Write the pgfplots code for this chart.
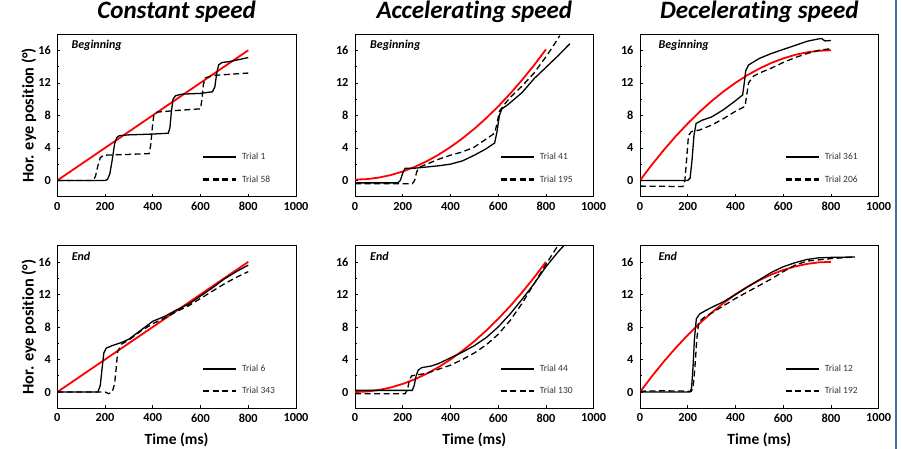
\documentclass[border=0pt]{standalone}
\usepackage{fontspec}
\setmainfont[Ligatures=NoCommon]{Carlito}
\usepackage{pgfplots}
\pgfplotsset{compat=1.18}
\definecolor{legtext}{HTML}{333333}
\definecolor{sideblue}{HTML}{4A6DA7}

\pgfplotsset{
  panel/.style={
    scale only axis, width=238.7pt, height=162.7pt,
    xmin=0, xmax=1000, ymin=-2, ymax=18,
    xtick={0,200,...,1000}, ytick={0,4,...,16},
    minor ytick={2,6,10,14},
    xtick pos=bottom, ytick pos=left,
    tick align=inside, major tick length=3pt, minor tick length=2pt,
    tick style={black, line width=0.6pt},
    axis line style={black, line width=0.8pt},
    /pgf/number format/assume math mode=true,
    /pgf/number format/1000 sep={},
    tick label style={font=\bfseries\fontsize{12.3}{14}\selectfont},
    xticklabel style={yshift=-2pt},
    yticklabel style={xshift=-3pt},
    title style={font=\bfseries\itshape\fontsize{25}{28}\selectfont,
      at={(0.5,1)}, anchor=base, yshift=9pt},
    xlabel style={font=\bfseries\fontsize{15.5}{18}\selectfont,
      at={(axis description cs:0.5,0)}, anchor=base, yshift=-36.7pt},
    ylabel style={font=\bfseries\fontsize{16.3}{18}\selectfont,
      at={(axis description cs:-0.0997,0.5)}, anchor=base},
    legend style={draw=none, fill=none, text=legtext,
      font=\fontsize{9.5}{10}\selectfont, row sep=10pt, column sep=3pt,
      at={(axis description cs:0.605,0.28)}, anchor=north west,
      inner sep=0pt},
    legend cell align=left,
    legend image code/.code={\draw[##1, line width=2.2pt] (0pt,0pt) -- (33pt,0pt);},
  },
  trace/.style={black, line width=1.3pt},
  tracedash/.style={black, line width=1.3pt, dash pattern=on 6pt off 3.5pt},
  target/.style={red, line width=1.8pt, forget plot},
}
\newcommand{\tag}[2]{\node[anchor=base west, font=\bfseries\itshape\fontsize{12}{14}\selectfont]
  at (axis description cs:#1,0.911) {#2};}

\begin{document}
\begin{tikzpicture}
\useasboundingbox (0pt,0pt) rectangle (903pt,449pt);

% ---------- top row: beginning ----------
\begin{axis}[panel, at={(57.3pt,252.3pt)}, anchor=south west,
  title={Constant speed}, ylabel={Hor. eye position (°)}]
\addplot[target] coordinates {(0,0)(800,16)};
\addplot[trace] coordinates {(0,0)(100,0)(200,0)(210,0.1)(220,0.8)(230,2.5)(240,4.5)(250,5.3)(260,5.5)(300,5.6)(400,5.7)(465,5.8)(472,6.5)(478,8.5)(485,10)(495,10.4)(520,10.6)(600,10.7)(650,10.9)(660,11.5)(668,13.2)(676,14.2)(690,14.5)(720,14.6)(800,15.1)};
\addlegendentry{Trial 1}
\addplot[tracedash] coordinates {(0,0)(150,0)(160,0.5)(170,1.8)(180,2.8)(195,3.1)(300,3.2)(385,3.3)(392,4.5)(398,6.5)(405,8.2)(420,8.4)(500,8.6)(600,8.8)(606,10)(612,11.8)(620,12.6)(650,12.9)(700,13)(800,13.2)};
\addlegendentry{Trial 58}
\tag{0.045}{Beginning}
\end{axis}

\begin{axis}[panel, at={(355pt,252.3pt)}, anchor=south west,
  title={Accelerating speed}]
\addplot[target] coordinates {(0,0.1)(50,0.16)(100,0.35)(150,0.66)(200,1.1)(250,1.66)(300,2.35)(350,3.16)(400,4.1)(450,5.16)(500,6.35)(550,7.66)(600,9.1)(650,10.66)(700,12.35)(750,14.16)(800,16.1)};
\addplot[trace] coordinates {(0,-0.3)(180,-0.3)(190,0)(200,0.9)(210,1.5)(250,1.5)(300,1.65)(350,1.8)(400,2.0)(450,2.4)(500,3.1)(550,3.9)(585,4.6)(595,6)(605,8.0)(615,8.8)(640,9.3)(700,10.8)(750,12.5)(800,13.9)(850,15.3)(900,16.8)};
\addlegendentry{Trial 41}
\addplot[tracedash] coordinates {(0,-0.4)(240,-0.4)(250,0)(258,1)(268,1.6)(300,2.0)(350,2.6)(400,3.1)(450,3.5)(500,4.1)(550,5.1)(585,5.8)(595,7)(605,8.5)(625,9.3)(650,10.2)(700,11.6)(750,13.2)(800,15.2)(830,16.5)(858,17.8)};
\addlegendentry{Trial 195}
\tag{0.049}{Beginning}
\end{axis}

\begin{axis}[panel, at={(640pt,252.3pt)}, anchor=south west,
  title={Decelerating speed}]
\addplot[target] coordinates {(0,0)(50,1.94)(100,3.75)(150,5.44)(200,7)(250,8.44)(300,9.75)(350,10.94)(400,12)(450,12.94)(500,13.75)(550,14.44)(600,15)(650,15.44)(700,15.75)(750,15.94)(800,16)};
\addplot[trace] coordinates {(0,0)(200,0)(210,0.3)(218,2.5)(226,5.5)(235,7)(260,7.4)(300,7.8)(350,8.7)(400,9.8)(430,10.5)(437,12)(443,13.5)(455,14.2)(500,15)(550,15.6)(600,16.1)(650,16.6)(700,17.1)(740,17.35)(760,17.45)(775,17.15)(800,17.2)};
\addlegendentry{Trial 361}
\addplot[tracedash] coordinates {(0,-0.7)(180,-0.75)(188,0)(195,2.5)(203,5.5)(215,6)(250,6.2)(300,6.8)(350,7.6)(400,8.5)(440,9.1)(447,10.5)(455,12)(475,12.8)(500,13.2)(550,13.8)(600,14.5)(650,15.1)(700,15.6)(750,16.0)(800,16.2)};
\addlegendentry{Trial 206}
\tag{0.063}{Beginning}
\end{axis}

% ---------- bottom row: end ----------
\begin{axis}[panel, at={(57.3pt,40.7pt)}, anchor=south west,
  xlabel={Time (ms)}, ylabel={Hor. eye position (°)}]
\addplot[target] coordinates {(0,0)(800,16)};
\addplot[trace] coordinates {(0,0)(100,0)(170,0)(180,0.8)(188,3)(195,4.8)(205,5.4)(230,5.7)(270,6.1)(300,6.5)(350,7.6)(400,8.7)(450,9.3)(500,10.1)(550,10.8)(600,11.8)(650,12.8)(700,13.9)(750,14.8)(800,15.6)};
\addlegendentry{Trial 6}
\addplot[tracedash] coordinates {(0,0)(200,0)(215,-0.2)(230,0)(240,1)(247,3)(253,5)(270,5.9)(300,6.4)(350,7.5)(400,8.4)(450,9.1)(500,9.9)(550,10.6)(600,11.5)(650,12.4)(700,13.3)(750,14.1)(800,14.8)};
\addlegendentry{Trial 343}
\tag{0.046}{End}
\end{axis}

\begin{axis}[panel, at={(355pt,40.7pt)}, anchor=south west,
  xlabel={Time (ms)}]
\addplot[target] coordinates {(0,0)(50,0.06)(100,0.25)(150,0.56)(200,1)(250,1.56)(300,2.25)(350,3.06)(400,4)(450,5.06)(500,6.25)(550,7.56)(600,9)(650,10.56)(700,12.25)(750,14.06)(800,16)};
\addplot[trace] coordinates {(0,0.2)(100,0.2)(240,0.2)(248,0.8)(256,2)(265,2.7)(280,3.0)(320,3.2)(350,3.5)(400,4.2)(450,4.9)(500,5.7)(550,6.7)(600,8.0)(650,9.6)(700,11.4)(750,13.3)(800,15.4)(850,17.2)(875,18)};
\addlegendentry{Trial 44}
\addplot[tracedash] coordinates {(0,-0.2)(210,-0.2)(220,0.3)(228,1.5)(238,2)(300,2.3)(350,2.8)(400,3.3)(450,4)(500,4.8)(550,5.8)(600,7.1)(650,8.8)(700,10.9)(750,13.3)(800,15.7)(850,18)};
\addlegendentry{Trial 130}
\tag{0.049}{End}
\end{axis}

\begin{axis}[panel, at={(640pt,40.7pt)}, anchor=south west,
  xlabel={Time (ms)}]
\addplot[target] coordinates {(0,0)(50,1.94)(100,3.75)(150,5.44)(200,7)(250,8.44)(300,9.75)(350,10.94)(400,12)(450,12.94)(500,13.75)(550,14.44)(600,15)(650,15.44)(700,15.75)(750,15.94)(800,16)};
\addplot[trace] coordinates {(0,0)(100,0)(210,0)(216,0.5)(222,3)(228,6.5)(236,9)(250,9.6)(280,10.1)(300,10.4)(350,11.1)(400,12.0)(450,12.9)(500,13.8)(550,14.7)(600,15.4)(650,15.9)(700,16.3)(750,16.5)(800,16.55)(900,16.6)};
\addlegendentry{Trial 12}
\addplot[tracedash] coordinates {(0,0.1)(100,0.15)(215,0.1)(222,0.5)(230,3)(238,6.5)(246,8.6)(270,9.2)(300,9.7)(350,10.6)(400,11.5)(450,12.3)(500,13.1)(550,13.9)(600,14.8)(650,15.6)(700,16.1)(800,16.4)(900,16.6)};
\addlegendentry{Trial 192}
\tag{0.063}{End}
\end{axis}

\draw[sideblue, line width=1.8pt] (895.7pt,0pt) -- (895.7pt,449pt);
\end{tikzpicture}
\end{document}
